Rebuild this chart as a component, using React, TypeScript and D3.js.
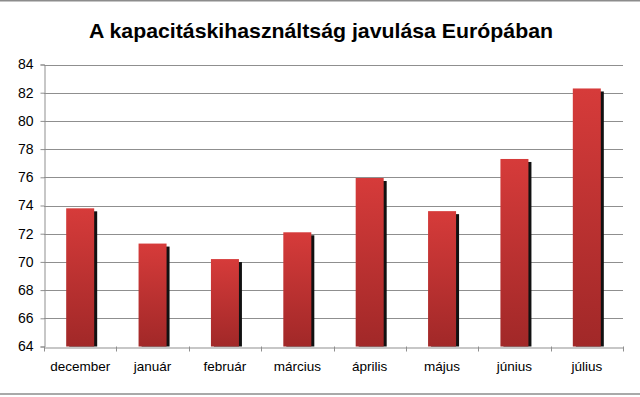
import React, { useEffect, useRef } from 'react';
import * as d3 from 'd3';

const months = ['december', 'január', 'február', 'március', 'április', 'május', 'június', 'július'];
const values = [73.8, 71.3, 70.2, 72.1, 75.95, 73.6, 77.3, 82.3];
const yTicks = [64, 66, 68, 70, 72, 74, 76, 78, 80, 82, 84];
const title = 'A kapacitáskihasználtság javulása Európában';

const App: React.FC = () => {
  const ref = useRef<SVGSVGElement | null>(null);

  useEffect(() => {
    const width = 640;
    const height = 397;
    const margin = { top: 64.5, right: 17, bottom: 50.5, left: 44 };

    const svg = d3.select(ref.current)
      .attr('width', width)
      .attr('height', height)
      .style('position', 'absolute')
      .style('left', '0px')
      .style('top', '0px')
      .style('background', '#ffffff')
      .style('font-family', 'Arial, "Liberation Sans", sans-serif');

    svg.selectAll('*').remove();

    const x = d3.scaleBand<string>()
      .domain(months)
      .range([margin.left, width - margin.right])
      .paddingInner(0)
      .paddingOuter(0);

    const y = d3.scaleLinear()
      .domain([64, 84])
      .range([height - margin.bottom, margin.top]);

    const defs = svg.append('defs');
    const grad = defs.append('linearGradient')
      .attr('id', 'barGrad')
      .attr('x1', 0).attr('y1', 0).attr('x2', 0).attr('y2', 1);
    grad.append('stop').attr('offset', '0%').attr('stop-color', '#d63b3a');
    grad.append('stop').attr('offset', '100%').attr('stop-color', '#a12828');

    // frame lines
    svg.append('line')
      .attr('x1', 0).attr('x2', width).attr('y1', 0.5).attr('y2', 0.5)
      .attr('stroke', '#8c8c8c').attr('stroke-width', 2);
    svg.append('line')
      .attr('x1', 0).attr('x2', width).attr('y1', 394).attr('y2', 394)
      .attr('stroke', '#8c8c8c').attr('stroke-width', 1.5);

    svg.append('text')
      .attr('x', 321)
      .attr('y', 38)
      .attr('text-anchor', 'middle')
      .attr('font-size', 21)
      .attr('font-weight', 'bold')
      .attr('fill', '#000')
      .attr('textLength', 464)
      .attr('lengthAdjust', 'spacingAndGlyphs')
      .text(title);

    // gridlines
    svg.append('g')
      .selectAll('line')
      .data(yTicks.filter(t => t > 64))
      .join('line')
      .attr('x1', margin.left)
      .attr('x2', width - margin.right)
      .attr('y1', d => Math.round(y(d)) + 0.5)
      .attr('y2', d => Math.round(y(d)) + 0.5)
      .attr('stroke', '#8f8f8f')
      .attr('stroke-width', 1);

    // y axis
    const yAxis = svg.append('g')
      .attr('transform', `translate(${margin.left + 0.5},0)`)
      .call(d3.axisLeft(y).tickValues(yTicks).tickSize(4).tickPadding(7).tickFormat(d3.format('d')));
    yAxis.select('.domain').attr('stroke', '#8f8f8f');
    yAxis.selectAll('.tick line').attr('stroke', '#8f8f8f');
    yAxis.selectAll('.tick text')
      .attr('font-size', 14)
      .attr('font-family', 'Arial, "Liberation Sans", sans-serif')
      .attr('fill', '#000');

    // bars: shadow then bar
    const bw = 28;
    const bars = svg.append('g');
    bars.selectAll('rect.shadow')
      .data(values)
      .join('rect')
      .attr('class', 'shadow')
      .attr('x', (d, i) => x(months[i])! + x.bandwidth() / 2 - bw / 2 + 3)
      .attr('y', d => y(d) + 3)
      .attr('width', bw)
      .attr('height', d => y(64) - y(d) - 3)
      .attr('fill', '#111');
    bars.selectAll('rect.bar')
      .data(values)
      .join('rect')
      .attr('class', 'bar')
      .attr('x', (d, i) => x(months[i])! + x.bandwidth() / 2 - bw / 2)
      .attr('y', d => y(d))
      .attr('width', bw)
      .attr('height', d => y(64) - y(d))
      .attr('fill', 'url(#barGrad)');

    // x axis
    const xAxis = svg.append('g')
      .attr('transform', `translate(0,${Math.round(y(64)) + 0.5})`)
      .call(d3.axisBottom(x).tickSize(0).tickPadding(14));
    xAxis.select('.domain').attr('stroke', '#8f8f8f');
    xAxis.selectAll('.tick text')
      .attr('font-size', 13.5)
      .attr('font-family', 'Arial, "Liberation Sans", sans-serif')
      .attr('fill', '#000');

    // category separator ticks
    svg.append('g')
      .selectAll('line')
      .data(d3.range(months.length + 1))
      .join('line')
      .attr('x1', i => Math.round(margin.left + i * x.step()) + 0.5)
      .attr('x2', i => Math.round(margin.left + i * x.step()) + 0.5)
      .attr('y1', y(64))
      .attr('y2', y(64) + 5)
      .attr('stroke', '#8f8f8f');
  }, []);

  return <svg ref={ref}></svg>;
};

export default App;
